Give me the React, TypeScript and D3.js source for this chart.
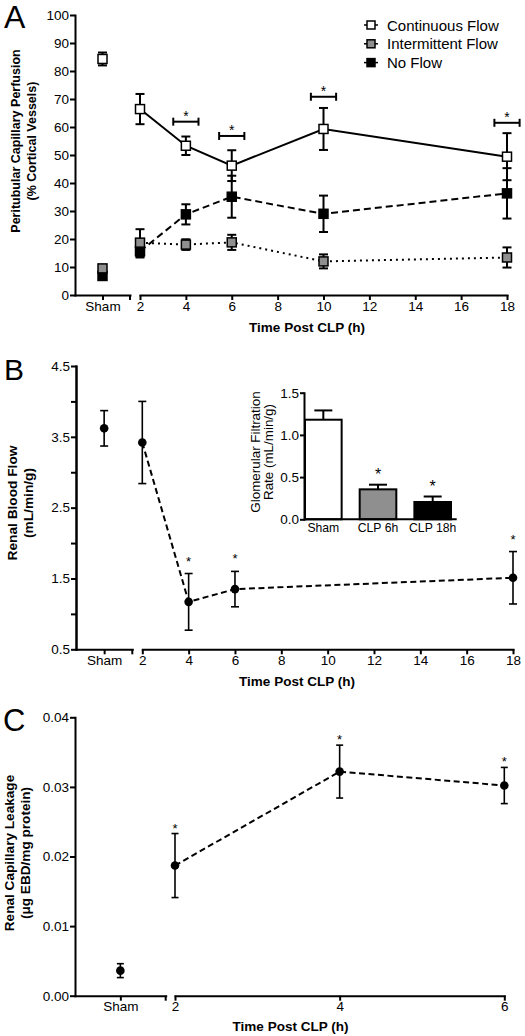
import React, { useEffect, useRef } from 'react';
import * as d3 from 'd3';

const FONT = '"Liberation Sans", Arial, Helvetica, sans-serif';

// ---------- Panel A: peritubular capillary perfusion ----------
const perfSeriesNames = ['Continuous Flow', 'Intermittent Flow', 'No Flow'];
const perfHours = [2, 4, 6, 10, 18];
const contFlow = [66.4, 53.3, 46.2, 59.3, 49.4];
const contFlowSem = [5.4, 3.3, 5.5, 7.5, 8.4];
const interFlow = [18.7, 18.0, 18.8, 12.0, 13.4];
const interFlowSem = [4.8, 1.9, 2.7, 2.5, 3.6];
const noFlow = [15.6, 28.8, 35.1, 29.0, 36.3];
const noFlowSem = [2.2, 3.6, 7.5, 6.5, 9.0];
const perfSham = [84.3, 9.5, 6.8];
const perfShamSem = [2.3, 0.9, 0.9];
const perfSigHours = [4, 6, 10, 18];
const perfSigLevel = [61.9, 56.8, 70.8, 61.5];
const perfYTicks = [0, 10, 20, 30, 40, 50, 60, 70, 80, 90, 100];
const hourTicksLong = [2, 4, 6, 8, 10, 12, 14, 16, 18];

// ---------- Panel B: renal blood flow ----------
const rbfHours = [2, 4, 6, 18];
const rbf = [3.42, 1.17, 1.35, 1.51];
const rbfSem = [0.58, 0.4, 0.25, 0.37];
const rbfSham = 3.62;
const rbfShamSem = 0.25;
const rbfSigHours = [4, 6, 18];
const rbfYTicks = [0.5, 1.5, 2.5, 3.5, 4.5];
const rbfYMinorTicks = [1.0, 2.0, 3.0, 4.0];

// ---------- Panel B inset: GFR ----------
const gfrGroups = ['Sham', 'CLP 6h', 'CLP 18h'];
const gfr = [1.18, 0.355, 0.205];
const gfrSem = [0.11, 0.055, 0.065];
const gfrSignificant = [false, true, true];
const gfrYTicks = [0, 0.5, 1.0, 1.5];

// ---------- Panel C: capillary leakage ----------
const leakHours = [2, 4, 6];
const leak = [0.0187, 0.0322, 0.0302];
const leakSem = [0.0046, 0.0038, 0.0026];
const leakSham = 0.0036;
const leakShamSem = 0.001;
const leakSigHours = [2, 4, 6];
const leakYTicks = [0, 0.01, 0.02, 0.03, 0.04];
const hourTicksShort = [2, 4, 6];

const GRAY = '#8f8f8f';

type Sel = d3.Selection<any, unknown, null, undefined>;

function styleAxis(g: Sel, fontSize: number, sw = 2) {
  g.attr('font-family', FONT).attr('font-size', fontSize);
  g.selectAll('path.domain').attr('stroke', '#000').attr('stroke-width', sw).attr('stroke-linecap', 'square');
  g.selectAll('.tick line').attr('stroke', '#000').attr('stroke-width', sw);
  g.selectAll('.tick text').attr('fill', '#000');
}

function errBar(g: Sel, x: number, yLo: number, yHi: number, cap: number, sw: number) {
  g.append('line').attr('x1', x).attr('x2', x).attr('y1', yLo).attr('y2', yHi).attr('stroke', '#000').attr('stroke-width', sw);
  [yLo, yHi].forEach((yy) => {
    g.append('line').attr('x1', x - cap / 2).attr('x2', x + cap / 2).attr('y1', yy).attr('y2', yy).attr('stroke', '#000').attr('stroke-width', sw);
  });
}

function brokenXAxis(
  svg: Sel,
  yBot: number,
  x0: number,
  segEnd: number,
  t: d3.ScaleLinear<number, number>,
  ticks: number[],
  fontSize: number
) {
  const sham = d3.scalePoint<string>().domain(['Sham']).range([x0, segEnd]).padding(0.5);
  const g1 = svg.append('g').attr('transform', `translate(0,${yBot})`)
    .call(d3.axisBottom(sham).tickSize(5).tickSizeOuter(0).tickPadding(1) as any);
  styleAxis(g1, fontSize);
  g1.append('line').attr('x1', segEnd).attr('x2', segEnd).attr('y1', 0).attr('y2', 5).attr('stroke', '#000').attr('stroke-width', 2);
  const g2 = svg.append('g').attr('transform', `translate(0,${yBot})`)
    .call(d3.axisBottom(t).tickValues(ticks).tickFormat(d3.format('d') as any).tickSize(5).tickSizeOuter(0).tickPadding(1) as any);
  styleAxis(g2, fontSize);
  return sham;
}

function yTitle(svg: Sel, lines: string[], xs: number[], yc: number, size: number, weight: string) {
  lines.forEach((s, i) => {
    svg.append('text')
      .attr('transform', `translate(${xs[i]},${yc}) rotate(-90)`)
      .attr('text-anchor', 'middle').attr('font-size', size).attr('font-weight', weight)
      .attr('font-family', FONT).text(s);
  });
}

function plainText(svg: Sel, x: number, y: number, s: string, size: number, weight = 'normal', anchor = 'start') {
  svg.append('text').attr('x', x).attr('y', y).attr('font-size', size).attr('font-weight', weight)
    .attr('text-anchor', anchor).attr('font-family', FONT).text(s);
}

function drawA(svg: Sel) {
  const x0 = 75, yTop = 15, yBot = 295, segEnd = 130, t0 = 140, t1 = 507;
  const y = d3.scaleLinear().domain([0, 100]).range([yBot, yTop]);
  const t = d3.scaleLinear().domain([2, 18]).range([t0, t1]);

  const gy = svg.append('g').attr('transform', `translate(${x0},0)`)
    .call(d3.axisLeft(y).tickValues(perfYTicks).tickFormat(d3.format('d') as any).tickSize(5).tickSizeOuter(0).tickPadding(1) as any);
  styleAxis(gy, 13.5);
  const sham = brokenXAxis(svg, yBot, x0, segEnd, t, hourTicksLong, 13.5);
  const sx = sham('Sham') as number;

  const series = [
    { vals: contFlow, sem: contFlowSem, fill: '#fff', dash: null as string | null, sw: 2 },
    { vals: interFlow, sem: interFlowSem, fill: GRAY, dash: '2,4', sw: 2 },
    { vals: noFlow, sem: noFlowSem, fill: '#000', dash: '7,4', sw: 2 },
  ];
  const line = d3.line<number>().x((_, i) => t(perfHours[i])).y((d) => y(d));
  const g = svg.append('g');
  series.forEach((s) => {
    g.append('path').attr('d', line(s.vals)).attr('fill', 'none').attr('stroke', '#000')
      .attr('stroke-width', s.sw).attr('stroke-dasharray', s.dash);
  });
  series.forEach((s, si) => {
    s.vals.forEach((v, i) => errBar(g, t(perfHours[i]), y(v - s.sem[i]), y(v + s.sem[i]), 9, 2));
    errBar(g, sx, y(perfSham[si] - perfShamSem[si]), y(perfSham[si] + perfShamSem[si]), 9, 2);
  });
  [2, 0, 1].forEach((si) => {
    const s = series[si];
    const pts = s.vals.map((v, i) => [t(perfHours[i]), y(v)]);
    pts.push([sx, y(perfSham[si])]);
    pts.forEach(([px, py]) => {
      g.append('rect').attr('x', px - 4.5).attr('y', py - 4.5).attr('width', 9).attr('height', 9)
        .attr('fill', s.fill).attr('stroke', '#000').attr('stroke-width', 1.5);
    });
  });

  // significance brackets
  perfSigHours.forEach((h, i) => {
    const yy = y(perfSigLevel[i]);
    const xa = t(h - 0.55), xb = t(h + 0.55);
    g.append('line').attr('x1', xa).attr('x2', xb).attr('y1', yy).attr('y2', yy).attr('stroke', '#000').attr('stroke-width', 2);
    [xa, xb].forEach((xx) => g.append('line').attr('x1', xx).attr('x2', xx).attr('y1', yy - 4).attr('y2', yy + 4).attr('stroke', '#000').attr('stroke-width', 2));
    plainText(svg, t(h), yy - 0.5, '*', 14, 'normal', 'middle');
  });

  // legend
  const fills = ['#fff', GRAY, '#000'];
  perfSeriesNames.forEach((name, i) => {
    const ly = 25 + i * 18.8;
    const lg = svg.append('g').attr('transform', `translate(371,${ly})`);
    lg.append('line').attr('x1', -7).attr('x2', 7).attr('y1', 0).attr('y2', 0).attr('stroke', '#000').attr('stroke-width', 1.5);
    lg.append('rect').attr('x', -4).attr('y', -4).attr('width', 8).attr('height', 8).attr('fill', fills[i]).attr('stroke', '#000').attr('stroke-width', 1.5);
    plainText(lg, 16, 5.5, name, 15);
  });

  plainText(svg, 4, 28, 'A', 32);
  plainText(svg, 307, 332, 'Time Post CLP (h)', 13.5, 'bold', 'middle');
  yTitle(svg, ['Peritubular Capillary Perfusion', '(% Cortical Vessels)'], [19.5, 36], 141, 12.5, 'bold');
}

function drawB(svg: Sel) {
  const x0 = 76, yTop = 366, yBot = 649.3, segEnd = 132.3, t0 = 142.3, t1 = 513;
  const y = d3.scaleLinear().domain([0.5, 4.5]).range([yBot, yTop]);
  const t = d3.scaleLinear().domain([2, 18]).range([t0, t1]);

  const gy = svg.append('g').attr('transform', `translate(${x0},0)`)
    .call(d3.axisLeft(y).tickValues(rbfYTicks).tickFormat(d3.format('.1f') as any).tickSize(5).tickSizeOuter(0).tickPadding(1) as any);
  styleAxis(gy, 13.5);
  const gm = svg.append('g').attr('transform', `translate(${x0},0)`)
    .call(d3.axisLeft(y).tickValues(rbfYMinorTicks).tickFormat(() => '').tickSize(5).tickSizeOuter(0) as any);
  styleAxis(gm, 13.5);
  const sham = brokenXAxis(svg, yBot, x0, segEnd, t, hourTicksLong, 13.5);
  const sx = sham('Sham') as number;

  const g = svg.append('g');
  const line = d3.line<number>().x((_, i) => t(rbfHours[i])).y((d) => y(d));
  g.append('path').attr('d', line(rbf)).attr('fill', 'none').attr('stroke', '#000').attr('stroke-width', 2).attr('stroke-dasharray', '6,3.5');
  rbf.forEach((v, i) => errBar(g, t(rbfHours[i]), y(v - rbfSem[i]), y(v + rbfSem[i]), 8, 1.6));
  errBar(g, sx, y(rbfSham - rbfShamSem), y(rbfSham + rbfShamSem), 8, 1.6);
  rbf.forEach((v, i) => g.append('circle').attr('cx', t(rbfHours[i])).attr('cy', y(v)).attr('r', 4.3).attr('fill', '#000'));
  g.append('circle').attr('cx', sx).attr('cy', y(rbfSham)).attr('r', 4.3).attr('fill', '#000');
  rbfSigHours.forEach((h) => {
    const i = rbfHours.indexOf(h);
    plainText(svg, t(h), y(rbf[i] + rbfSem[i]) - 8, '*', 13, 'normal', 'middle');
  });

  plainText(svg, 4, 380, 'B', 30);
  plainText(svg, 297, 686, 'Time Post CLP (h)', 13.5, 'bold', 'middle');
  yTitle(svg, ['Renal Blood Flow', '(mL/min/g)'], [17, 33], 503, 13.7, 'bold');

  // inset
  const ix0 = 304, iyTop = 392.7, iyBot = 519.3, ixEnd = 456.7;
  const iy = d3.scaleLinear().domain([0, 1.5]).range([iyBot, iyTop]);
  const bx = d3.scaleBand<string>().domain(gfrGroups).range([305, 451]).paddingInner(0.33).paddingOuter(0);
  const giy = svg.append('g').attr('transform', `translate(${ix0},0)`)
    .call(d3.axisLeft(iy).tickValues(gfrYTicks).tickFormat(d3.format('.1f') as any).tickSize(4).tickSizeOuter(0).tickPadding(1) as any);
  styleAxis(giy, 13.5);
  const bars = svg.append('g');
  const fills = ['#fff', GRAY, '#000'];
  gfr.forEach((v, i) => {
    const bxx = bx(gfrGroups[i]) as number;
    const cx = bxx + bx.bandwidth() / 2;
    const top = iy(v);
    bars.append('line').attr('x1', cx).attr('x2', cx).attr('y1', top).attr('y2', iy(v + gfrSem[i])).attr('stroke', '#000').attr('stroke-width', 2);
    bars.append('line').attr('x1', cx - 9).attr('x2', cx + 9).attr('y1', iy(v + gfrSem[i])).attr('y2', iy(v + gfrSem[i])).attr('stroke', '#000').attr('stroke-width', 2);
    bars.append('rect').attr('x', bxx).attr('y', top).attr('width', bx.bandwidth()).attr('height', iyBot - top)
      .attr('fill', fills[i]).attr('stroke', '#000').attr('stroke-width', 2);
    if (gfrSignificant[i]) plainText(svg, cx, iy(v + gfrSem[i]) - 5, '*', 16, 'normal', 'middle');
  });
  const gix = svg.append('g').attr('transform', `translate(0,${iyBot})`)
    .call(d3.axisBottom(bx).tickSize(0).tickSizeOuter(0).tickPadding(4) as any);
  styleAxis(gix, 12.2);
  gix.select('path.domain').remove();
  svg.append('line').attr('x1', ix0).attr('x2', ixEnd).attr('y1', iyBot).attr('y2', iyBot).attr('stroke', '#000').attr('stroke-width', 2);
  yTitle(svg, ['Glomerular Filtration', 'Rate (mL/min/g)'], [259.5, 273], 452, 13.4, 'normal');
}

function drawC(svg: Sel) {
  const x0 = 75, yTop = 717.3, yBot = 995.7, segEnd = 165.7, t0 = 175, t1 = 504.3;
  const y = d3.scaleLinear().domain([0, 0.04]).range([yBot, yTop]);
  const t = d3.scaleLinear().domain([2, 6]).range([t0, t1]);

  const gy = svg.append('g').attr('transform', `translate(${x0},0)`)
    .call(d3.axisLeft(y).tickValues(leakYTicks).tickFormat(d3.format('.2f') as any).tickSize(5).tickSizeOuter(0).tickPadding(1) as any);
  styleAxis(gy, 13.5);
  const sham = brokenXAxis(svg, yBot, x0, segEnd, t, hourTicksShort, 13.5);
  const sx = sham('Sham') as number;

  const g = svg.append('g');
  const line = d3.line<number>().x((_, i) => t(leakHours[i])).y((d) => y(d));
  g.append('path').attr('d', line(leak)).attr('fill', 'none').attr('stroke', '#000').attr('stroke-width', 2).attr('stroke-dasharray', '6,3.5');
  leak.forEach((v, i) => errBar(g, t(leakHours[i]), y(v - leakSem[i]), y(v + leakSem[i]), 7, 1.6));
  errBar(g, sx, y(leakSham - leakShamSem), y(leakSham + leakShamSem), 7, 1.6);
  leak.forEach((v, i) => g.append('circle').attr('cx', t(leakHours[i])).attr('cy', y(v)).attr('r', 4.3).attr('fill', '#000'));
  g.append('circle').attr('cx', sx).attr('cy', y(leakSham)).attr('r', 4.3).attr('fill', '#000');
  leakSigHours.forEach((h) => {
    const i = leakHours.indexOf(h);
    plainText(svg, t(h), y(leak[i] + leakSem[i]) - 1, '*', 13, 'normal', 'middle');
  });

  plainText(svg, 3, 731, 'C', 31);
  plainText(svg, 290.5, 1031, 'Time Post CLP (h)', 13.5, 'bold', 'middle');
  yTitle(svg, ['Renal Capillary Leakage', '(μg EBD/mg protein)'], [14, 30], 853, 13.6, 'bold');
}

export default function App() {
  const ref = useRef<SVGSVGElement>(null);
  useEffect(() => {
    document.body.style.margin = '0';
    const svg = d3.select(ref.current) as unknown as Sel;
    svg.selectAll('*').remove();
    drawA(svg);
    drawB(svg);
    drawC(svg);
  }, []);
  return (
    <svg ref={ref} width={525} height={1036} style={{ display: 'block', background: '#fff' }} fontFamily={FONT} />
  );
}
